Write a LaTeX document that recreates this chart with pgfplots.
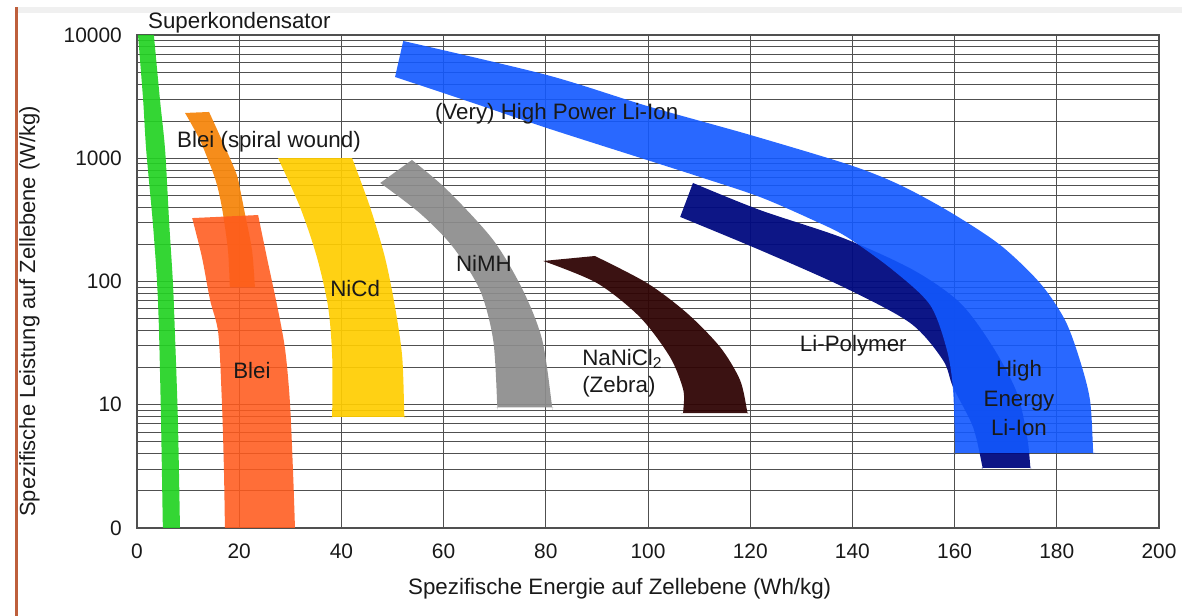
\documentclass[border=0pt]{standalone}
\usepackage{fontspec}
\setmainfont{Liberation Sans}
\usepackage{pgfplots}
\pgfplotsset{compat=1.18}

\definecolor{gridgray}{RGB}{80,80,80}
\definecolor{txt}{RGB}{25,25,25}
\definecolor{superc}{RGB}{35,210,35}
\definecolor{spiral}{RGB}{245,135,15}
\definecolor{blei}{RGB}{255,90,28}
\definecolor{nicd}{RGB}{255,205,0}
\definecolor{nimh}{RGB}{140,140,140}
\definecolor{zebra}{RGB}{48,5,5}
\definecolor{lipoly}{RGB}{0,10,128}
\definecolor{liion}{RGB}{18,88,255}
\definecolor{frameline}{RGB}{190,95,60}

\newcommand{\lblfont}{\fontsize{22.4}{27}\selectfont}

\begin{document}
\begin{tikzpicture}[x=1bp,y=1bp]
\useasboundingbox (0,0) rectangle (1182,616);
\fill[frameline] (15,0) rectangle (18,609);
\fill[black!6] (18,603) rectangle (1182,609);

\begin{axis}[
  at={(137bp,88bp)}, anchor=south west,
  scale only axis, width=1022bp, height=493bp,
  xmin=0, xmax=200,
  ymode=log, ymin=1, ymax=10000,
  xtick={0,20,40,60,80,100,120,140,160,180,200},
  xticklabels={0,20,40,60,80,100,120,140,160,180,200},
  ytick={1,10,100,1000,10000},
  yticklabels={0,10,100,1000,10000},
  minor ytick={2,3,4,5,6,7,8,9,20,30,40,50,60,70,80,90,200,300,400,500,600,700,800,900,2000,3000,4000,5000,6000,7000,8000,9000},
  grid=both,
  major grid style={gridgray, line width=1bp},
  minor grid style={gridgray, line width=1bp},
  axis line style={gridgray, line width=1.2bp},
  major tick length=0pt, minor tick length=0pt,
  tick label style={font=\fontsize{21}{21}\selectfont, text=txt},
  /pgf/number format/assume math mode=true,
  xticklabel style={inner sep=0pt, yshift=-16bp},
  yticklabel style={inner sep=0pt, xshift=-15bp},
  clip mode=individual,
  every axis plot/.append style={smooth, tension=0.5, draw=none},
]

% Superkondensator
\addplot[fill=superc, fill opacity=0.92] coordinates {
  (0.2,10000) (1.2,2970) (1.8,1167) (3.1,298) (3.9,103) (4.3,40.4) (4.7,7.52) (5.05,1.05) (5.1,1) (5.5,1)
  (8.0,1) (8.4,1) (8.4,1.05) (8.0,7.52) (7.4,40.4) (7.0,103) (6.3,298) (5.5,1167) (4.5,2970) (3.3,10000)
} -- cycle;

% Blei (spiral wound)
\addplot[fill=spiral, fill opacity=0.95] coordinates {
  (9.4,2330) (12.3,1406) (14.9,759) (15.9,553) (16.8,360) (17.8,180) (18.15,94) (18.2,90) (18.6,90)
  (22.7,90) (23.1,90) (23.05,94) (22.5,180) (21.1,360) (20.2,553) (19.4,759) (16.6,1406) (14.1,2373)
} -- cycle;

% Blei
\addplot[fill=blei, fill opacity=0.88] coordinates {
  (10.8,327) (12.7,158) (14.3,70.8) (15.9,38.2) (16.6,10.9) (17.0,3.13) (17.2,1.05) (17.2,1) (17.6,1)
  (30.5,1) (30.9,1) (30.9,1.05) (30.5,3.13) (29.9,10.9) (29.0,27.8) (27.6,58.7) (25.4,158) (23.7,346)
} -- cycle;

% NiCd
\addplot[fill=nicd, fill opacity=0.92] coordinates {
  (27.6,1000) (31.9,402) (35.2,158) (37.4,62.1) (38.2,24.4) (38.2,8.3) (38.2,7.96) (38.6,7.96)
  (51.9,7.96) (52.3,7.96) (52.3,8.3) (51.9,24.4) (50.5,62.1) (48.5,158) (45.6,402) (42.1,1000)
} -- cycle;

% NiMH
\addplot[fill=nimh, fill opacity=0.92] coordinates {
  (53.8,968) (60.7,553) (69.7,217) (75.5,85.3) (79.3,33.5) (81.2,9.9) (81.2,9.5) (80.8,9.5)
  (70.9,9.5) (70.5,9.5) (70.5,9.9) (69.7,33.5) (67.1,85.3) (61.8,191) (55.4,357) (47.6,630)
} -- cycle;

% NaNiCl2 (Zebra)
\addplot[fill=zebra, fill opacity=0.95] coordinates {
  (89.6,161) (99.8,97.2) (107.6,55.5) (114.1,29.4) (118.0,15.9) (119.4,8.9) (119.4,8.57) (119.0,8.57)
  (107.3,8.57) (106.9,8.57) (106.9,8.9) (106.9,13.2) (104.3,24.4) (98.4,51.5) (90.0,97.2) (79.5,146.7)
} -- cycle;

% Li-Polymer
\addplot[fill=lipoly, fill opacity=0.95] coordinates {
  (108.8,630) (121.9,380) (138.2,225) (151.9,124) (161.1,66.9) (167.5,29.4) (172.2,12.5) (174.2,5.47) (174.8,3.2) (174.8,3.07) (174.4,3.07)
  (165.8,3.07) (165.4,3.07) (165.4,3.2) (163.6,6.60) (159.7,13.9) (157.7,23.1) (151.3,46.1) (138.2,90.3) (121.9,180) (106.3,334)
} -- cycle;

% Li-Ion (high power to high energy)
\addplot[fill=liion, fill opacity=0.9] coordinates {
  (52.1,8940) (80.2,4735) (99.8,2655) (120.0,1545) (139.5,881) (149.3,607) (159.1,366)
  (168.9,198) (176.7,97.2) (181.6,48.7) (184.5,23.1) (186.5,10.9) (187.1,4.25) (187.1,4.06) (186.7,4.06)
  (160.5,4.06) (160.1,4.06) (160.1,4.25) (159.7,13.2) (158.5,27.8) (155.2,64.5) (147.9,124) (138.9,230) (132.3,315)
  (121.9,485) (110.2,704) (99.8,968) (80.2,1760) (65.2,2860) (50.5,4565)
} -- cycle;

\begin{scope}[every node/.style={inner sep=0pt, text=txt, font=\lblfont}]
\node[anchor=base west] at (axis cs:2.15,11190) {Superkondensator};
\node[anchor=base west] at (axis cs:7.83,1211) {Blei (spiral wound)};
\node[anchor=base west] at (axis cs:58.3,2043) {(Very) High Power Li-Ion};
\node[anchor=base west] at (axis cs:37.8,74.9) {NiCd};
\node[anchor=base west] at (axis cs:62.4,119.4) {NiMH};
\node[anchor=base west] at (axis cs:18.8,16.2) {Blei};
\node[anchor=base west] at (axis cs:87.1,21.0) {NaNiCl\textsubscript{2}};
\node[anchor=base west] at (axis cs:87.1,12.5) {(Zebra)};
\node[anchor=base west] at (axis cs:129.7,26.8) {Li-Polymer};
\node[anchor=base] at (axis cs:172.6,16.8) {High};
\node[anchor=base] at (axis cs:172.6,9.59) {Energy};
\node[anchor=base] at (axis cs:172.6,5.68) {Li-Ion};
\end{scope}
\end{axis}

\node[anchor=base west, inner sep=0pt, text=txt, font=\lblfont] at (408,21)
  {Spezifische Energie auf Zellebene (Wh/kg)};
\node[anchor=base west, inner sep=0pt, text=txt, rotate=90, font=\fontsize{22}{26}\selectfont] at (35,99)
  {Spezifische Leistung auf Zellebene (W/kg)};
\end{tikzpicture}
\end{document}
